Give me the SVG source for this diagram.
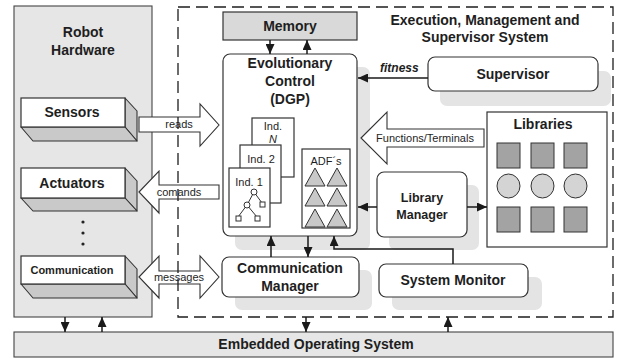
<svg xmlns="http://www.w3.org/2000/svg" width="618" height="358" viewBox="0 0 618 358">
  <defs>
    <marker id="head" markerUnits="userSpaceOnUse" markerWidth="10" markerHeight="9" refX="10" refY="4.5" orient="auto">
      <path d="M0,0 L10,4.5 L0,9 z" fill="#1a1a1a"/>
    </marker>
  </defs>
  <style>
    text { font-family: "Liberation Sans", Arial, sans-serif; fill: #1e1e1e; }
    .h { font-size: 14px; font-weight: bold; text-anchor: middle; }
    .s { font-size: 11px; text-anchor: middle; }
    .panel { fill: #e6e6e6; stroke: #444; stroke-width: 1.1; }
    .box { fill: #fff; stroke: #333; stroke-width: 1.2; }
    .shadow { fill: #e4e4e4; }
    .face { fill: #c9c9c9; stroke: #333; stroke-width: 1.1; stroke-linejoin: round; }
    .blk { fill: #fff; stroke: #333; stroke-width: 1.1; stroke-linejoin: miter; }
    .wire { fill: none; stroke: #1a1a1a; stroke-width: 1.5; marker-end: url(#head); }
    .tri { fill: #c8c8c8; stroke: #333; stroke-width: 1; }
    .sq { fill: #a3a3a3; stroke: #333; stroke-width: 1; }
    .ov { fill: #d4d4d4; stroke: #333; stroke-width: 1; }
  </style>

  <!-- robot hardware panel -->
  <g id="robot-hardware">
    <rect class="panel" x="14" y="6" width="138" height="311"/>
    <text class="h" x="83" y="37">Robot</text>
    <text class="h" x="83" y="55">Hardware</text>
    <circle cx="83" cy="222" r="1.6" fill="#222"/>
    <circle cx="83" cy="233" r="1.6" fill="#222"/>
    <circle cx="83" cy="244" r="1.6" fill="#222"/>
  </g>

  <g id="sensors">
    <polygon class="face" points="125,98 137,111 137,141 125,127"/>
    <polygon class="face" points="21,127 125,127 137,141 33,141"/>
    <rect class="box" x="21" y="98" width="104" height="29"/>
    <text class="h" x="72" y="117">Sensors</text>
  </g>

  <g id="actuators">
    <polygon class="face" points="125,168 137,181 137,211 125,198"/>
    <polygon class="face" points="21,198 125,198 137,211 33,211"/>
    <rect class="box" x="21" y="168" width="104" height="30"/>
    <text class="h" x="72" y="188">Actuators</text>
  </g>

  <g id="communication">
    <polygon class="face" points="125,256 137,269 137,298 125,284"/>
    <polygon class="face" points="21,284 125,284 137,298 33,298"/>
    <rect class="box" x="21" y="256" width="104" height="28"/>
    <text x="72" y="274" font-size="11" font-weight="bold" text-anchor="middle">Communication</text>
  </g>

  <!-- embedded operating system bar -->
  <g id="embedded-os">
    <rect class="panel" x="14" y="332" width="599" height="25"/>
    <text class="h" x="316" y="349">Embedded Operating System</text>
  </g>

  <!-- drop shadows of the rounded modules -->
  <g id="shadows">
    <rect class="shadow" x="235" y="67" width="135" height="183" rx="7"/>
    <rect class="shadow" x="235" y="270" width="137" height="40" rx="7"/>
    <rect class="shadow" x="392" y="277" width="150" height="33" rx="7"/>
    <rect class="shadow" x="389" y="185" width="90" height="65" rx="7"/>
    <rect class="shadow" x="440" y="71" width="171" height="35" rx="7"/>
  </g>

  <g id="memory">
    <rect x="223" y="12" width="134" height="28" fill="#d9d9d9" stroke="#333" stroke-width="1.2"/>
    <text class="h" x="290" y="31">Memory</text>
  </g>

  <g id="evolutionary-control">
    <rect class="box" x="223" y="54" width="134" height="182" rx="7"/>
    <text class="h" x="290" y="68">Evolutionary</text>
    <text class="h" x="290" y="86">Control</text>
    <text class="h" x="290" y="104">(DGP)</text>
    <!-- population of individuals -->
    <rect class="box" x="252" y="118" width="42" height="59" stroke-width="1"/>
    <text class="s" x="273" y="130">Ind.</text>
    <text class="s" x="273" y="143" font-style="italic">N</text>
    <rect class="box" x="240" y="145" width="41" height="58" stroke-width="1"/>
    <text class="s" x="261" y="163">Ind. 2</text>
    <rect class="box" x="229" y="168" width="41" height="59" stroke-width="1"/>
    <text class="s" x="249" y="186">Ind. 1</text>
    <g stroke="#333" stroke-width="1" fill="#fff">
      <line x1="254" y1="192" x2="262" y2="203"/>
      <line x1="254" y1="192" x2="247" y2="205"/>
      <line x1="247" y1="205" x2="238" y2="217"/>
      <line x1="247" y1="205" x2="257" y2="217"/>
      <circle cx="254" cy="192" r="3"/>
      <circle cx="247" cy="205" r="3"/>
      <rect x="260" y="202" width="5" height="5"/>
      <rect x="236" y="216" width="5" height="5"/>
      <rect x="255" y="216" width="5" height="5"/>
    </g>
    <!-- automatically defined functions -->
    <rect class="box" x="302" y="149" width="48" height="79" stroke-width="1"/>
    <text class="s" x="326" y="165">ADF´s</text>
    <polygon class="tri" points="315,168 325,186 305,186"/>
    <polygon class="tri" points="337,168 347,186 327,186"/>
    <polygon class="tri" points="315,188 325,206 305,206"/>
    <polygon class="tri" points="337,188 347,206 327,206"/>
    <polygon class="tri" points="315,209 325,227 305,227"/>
    <polygon class="tri" points="337,209 347,227 327,227"/>
  </g>

  <g id="supervisor">
    <rect class="box" x="428" y="57" width="170" height="34" rx="7"/>
    <text class="h" x="513" y="79">Supervisor</text>
  </g>

  <g id="libraries">
    <rect class="box" x="487" y="112" width="120" height="135"/>
    <text class="h" x="543" y="129">Libraries</text>
    <rect class="sq" x="497" y="143" width="23" height="25"/>
    <rect class="sq" x="531" y="143" width="23" height="25"/>
    <rect class="sq" x="564" y="143" width="23" height="25"/>
    <ellipse class="ov" cx="508.5" cy="186" rx="11.5" ry="12"/>
    <ellipse class="ov" cx="542.5" cy="186" rx="11.5" ry="12"/>
    <ellipse class="ov" cx="575.5" cy="186" rx="11.5" ry="12"/>
    <rect class="sq" x="497" y="207" width="23" height="25"/>
    <rect class="sq" x="531" y="207" width="23" height="25"/>
    <rect class="sq" x="564" y="207" width="23" height="25"/>
  </g>

  <g id="library-manager">
    <rect class="box" x="377" y="172" width="90" height="65" rx="7"/>
    <text x="422" y="202" font-size="12.5" font-weight="bold" text-anchor="middle">Library</text>
    <text x="422" y="219" font-size="12.5" font-weight="bold" text-anchor="middle">Manager</text>
  </g>

  <g id="communication-manager">
    <rect class="box" x="222" y="257" width="137" height="40" rx="7"/>
    <text class="h" x="290" y="273">Communication</text>
    <text class="h" x="290" y="291">Manager</text>
  </g>

  <g id="system-monitor">
    <rect class="box" x="379" y="264" width="149" height="33" rx="7"/>
    <text class="h" x="453" y="285">System Monitor</text>
  </g>

  <!-- connectors -->
  <g id="connectors">
    <!-- block arrows -->
    <polygon class="blk" points="139,117 200,117 200,104 219,125 200,146 200,132 139,132"/>
    <text class="s" x="179" y="128">reads</text>
    <polygon class="blk" points="139,192 159,171 159,185 219,185 219,199 159,199 159,213"/>
    <text class="s" x="179" y="196">comands</text>
    <polygon class="blk" points="139,277 159,256 159,271 200,271 200,256 219,277 200,298 200,284 159,284 159,298"/>
    <text class="s" x="179" y="281">messages</text>
    <polygon class="blk" points="361,138 387,112 387,129 484,129 484,147 387,147 387,164"/>
    <text class="s" x="425" y="142">Functions/Terminals</text>

    <!-- plain arrows -->
    <path class="wire" d="M270,40 V54"/>
    <path class="wire" d="M307,54 V40"/>
    <path class="wire" d="M428,78 H358"/>
    <text x="380" y="72" font-size="12" font-weight="bold" font-style="italic">fitness</text>
    <path class="wire" d="M377,207 H358"/>
    <path class="wire" d="M467,207 H487"/>
    <path class="wire" d="M271,257 V236"/>
    <path class="wire" d="M308,236 V257"/>
    <path class="wire" d="M453,264 V249 H334 V236"/>
    <path class="wire" d="M65,317 V332"/>
    <path class="wire" d="M102,332 V317"/>
    <path class="wire" d="M306,317 V332"/>
    <path class="wire" d="M448,332 V317"/>
  </g>

  <!-- execution, management and supervisor system frame -->
  <g id="execution-system">
    <rect x="178" y="7" width="435" height="310" fill="none" stroke="#1e1e1e" stroke-width="1.3" stroke-dasharray="12 6"/>
    <text class="h" x="485" y="25">Execution, Management and</text>
    <text class="h" x="485" y="42">Supervisor System</text>
  </g>
</svg>
